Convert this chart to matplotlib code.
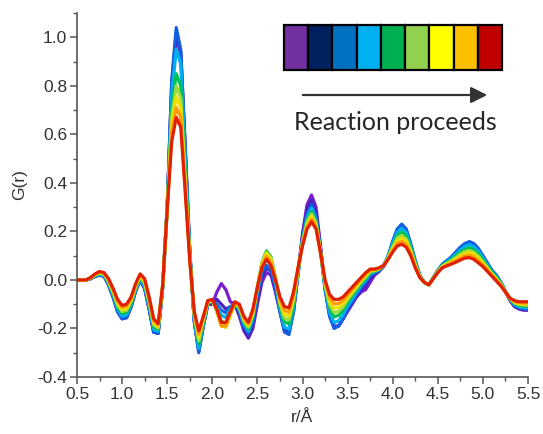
import numpy as np
import matplotlib
matplotlib.use("Agg")
import matplotlib.pyplot as plt
from matplotlib.patches import Rectangle, FancyArrowPatch
from matplotlib.ticker import MultipleLocator

plt.rcParams['axes.unicode_minus'] = False

# r grid (Å)
r = np.linspace(0.5, 5.5, 101)

g_purple = [0.0, 0.0, 0.0, 0.005, 0.015, 0.02, 0.015, -0.02, -0.07, -0.13,
            -0.16, -0.155, -0.11, -0.045, 0.0, -0.035, -0.12, -0.215, -0.22, -0.03,
            0.30, 0.79, 1.00, 0.93, 0.53, 0.12, -0.17, -0.29, -0.19, -0.10,
            -0.10, -0.05, -0.015, -0.04, -0.09, -0.10, -0.15, -0.21, -0.24, -0.20,
            -0.10, -0.01, 0.03, 0.02, -0.05, -0.13, -0.20, -0.21, -0.13, 0.03,
            0.19, 0.31, 0.35, 0.30, 0.14, -0.03, -0.14, -0.19, -0.19, -0.16,
            -0.13, -0.10, -0.07, -0.05, -0.04, -0.01, 0.02, 0.035, 0.055, 0.09,
            0.15, 0.20, 0.22, 0.20, 0.14, 0.07, 0.015, -0.01, -0.02, 0.005,
            0.035, 0.06, 0.075, 0.09, 0.11, 0.13, 0.145, 0.15, 0.14, 0.12,
            0.095, 0.065, 0.035, 0.015, -0.015, -0.05, -0.085, -0.11, -0.12, -0.125, -0.125]

g_navy = [0.0, 0.0, 0.0, 0.005, 0.015, 0.02, 0.015, -0.02, -0.07, -0.13,
          -0.16, -0.155, -0.11, -0.045, 0.0, -0.035, -0.12, -0.215, -0.22, -0.03,
          0.30, 0.81, 1.02, 0.94, 0.54, 0.12, -0.17, -0.295, -0.19, -0.10,
          -0.10, -0.08, -0.10, -0.12, -0.11, -0.105, -0.14, -0.20, -0.235, -0.185,
          -0.08, 0.01, 0.05, 0.035, -0.04, -0.13, -0.21, -0.215, -0.13, 0.025,
          0.18, 0.29, 0.33, 0.28, 0.13, -0.035, -0.145, -0.195, -0.19, -0.16,
          -0.125, -0.095, -0.065, -0.04, -0.025, 0.005, 0.025, 0.038, 0.058, 0.095,
          0.155, 0.205, 0.225, 0.205, 0.145, 0.075, 0.018, -0.01, -0.02, 0.008,
          0.038, 0.063, 0.078, 0.093, 0.113, 0.133, 0.148, 0.155, 0.145, 0.125,
          0.098, 0.068, 0.038, 0.018, -0.012, -0.048, -0.082, -0.108, -0.118, -0.122, -0.122]

g_blue = [0.0, 0.0, 0.0, 0.005, 0.015, 0.02, 0.015, -0.02, -0.07, -0.13,
          -0.16, -0.155, -0.11, -0.045, 0.0, -0.035, -0.12, -0.215, -0.22, -0.03,
          0.30, 0.82, 1.04, 0.95, 0.55, 0.12, -0.17, -0.30, -0.19, -0.10,
          -0.09, -0.10, -0.125, -0.135, -0.11, -0.10, -0.13, -0.19, -0.22, -0.17,
          -0.06, 0.03, 0.06, 0.04, -0.03, -0.13, -0.215, -0.225, -0.13, 0.02,
          0.17, 0.27, 0.31, 0.26, 0.12, -0.04, -0.15, -0.20, -0.19, -0.16,
          -0.12, -0.09, -0.06, -0.03, -0.01, 0.02, 0.03, 0.04, 0.06, 0.10,
          0.16, 0.21, 0.23, 0.21, 0.15, 0.08, 0.02, -0.01, -0.02, 0.01,
          0.04, 0.065, 0.08, 0.095, 0.115, 0.135, 0.15, 0.158, 0.15, 0.13,
          0.10, 0.07, 0.04, 0.02, -0.01, -0.045, -0.08, -0.105, -0.115, -0.12, -0.12]

g_lightblue = [0.0, 0.0, 0.0, 0.006, 0.017, 0.023, 0.018, -0.015, -0.063, -0.12,
               -0.149, -0.144, -0.102, -0.039, 0.005, -0.027, -0.11, -0.204, -0.212, -0.028,
               0.298, 0.76, 0.95, 0.89, 0.50, 0.112, -0.162, -0.282, -0.182, -0.097,
               -0.088, -0.11, -0.145, -0.155, -0.12, -0.098, -0.124, -0.182, -0.211, -0.16,
               -0.05, 0.045, 0.09, 0.065, -0.01, -0.118, -0.194, -0.203, -0.114, 0.026,
               0.164, 0.258, 0.296, 0.25, 0.118, -0.032, -0.132, -0.176, -0.168, -0.142,
               -0.106, -0.078, -0.05, -0.022, -0.002, 0.025, 0.033, 0.042, 0.06, 0.097,
               0.151, 0.196, 0.213, 0.195, 0.14, 0.074, 0.018, -0.01, -0.02, 0.009,
               0.038, 0.062, 0.076, 0.089, 0.107, 0.124, 0.138, 0.145, 0.137, 0.118,
               0.091, 0.063, 0.035, 0.015, -0.013, -0.046, -0.079, -0.101, -0.11, -0.114, -0.114]

g_green = [0.0, 0.0, 0.0, 0.007, 0.019, 0.026, 0.021, -0.01, -0.056, -0.11,
           -0.138, -0.133, -0.094, -0.033, 0.01, -0.019, -0.10, -0.193, -0.204, -0.026,
           0.296, 0.70, 0.85, 0.80, 0.45, 0.104, -0.154, -0.264, -0.174, -0.094,
           -0.086, -0.125, -0.17, -0.18, -0.14, -0.096, -0.118, -0.174, -0.202, -0.15,
           -0.03, 0.07, 0.12, 0.095, 0.01, -0.106, -0.173, -0.181, -0.098, 0.032,
           0.158, 0.246, 0.282, 0.24, 0.116, -0.024, -0.114, -0.152, -0.146, -0.124,
           -0.092, -0.066, -0.04, -0.014, 0.006, 0.03, 0.036, 0.044, 0.06, 0.094,
           0.142, 0.182, 0.197, 0.18, 0.13, 0.068, 0.016, -0.01, -0.02, 0.008,
           0.036, 0.059, 0.071, 0.083, 0.098, 0.114, 0.126, 0.132, 0.124, 0.106,
           0.082, 0.056, 0.03, 0.01, -0.016, -0.047, -0.078, -0.097, -0.105, -0.108, -0.108]

g_lightgreen = [0.0, 0.0, 0.0, 0.008, 0.021, 0.028, 0.023, -0.006, -0.051, -0.103,
                -0.13, -0.125, -0.088, -0.029, 0.014, -0.013, -0.093, -0.185, -0.198, -0.025,
                0.295, 0.67, 0.80, 0.75, 0.42, 0.098, -0.148, -0.251, -0.168, -0.092,
                -0.085, -0.13, -0.185, -0.195, -0.145, -0.095, -0.114, -0.168, -0.195, -0.143,
                -0.03, 0.068, 0.115, 0.09, 0.01, -0.097, -0.157, -0.165, -0.086, 0.037,
                0.154, 0.237, 0.272, 0.233, 0.115, -0.018, -0.101, -0.134, -0.13, -0.111,
                -0.082, -0.057, -0.033, -0.008, 0.012, 0.034, 0.038, 0.046, 0.06, 0.092,
                0.135, 0.172, 0.184, 0.169, 0.123, 0.064, 0.015, -0.01, -0.02, 0.007,
                0.035, 0.057, 0.068, 0.079, 0.092, 0.106, 0.117, 0.122, 0.114, 0.097,
                0.075, 0.051, 0.026, 0.006, -0.018, -0.048, -0.077, -0.094, -0.101, -0.104, -0.104]

g_yellow = [0.0, 0.0, 0.0, 0.009, 0.022, 0.031, 0.026, -0.003, -0.046, -0.095,
            -0.122, -0.117, -0.082, -0.024, 0.018, -0.007, -0.085, -0.177, -0.192, -0.023,
            0.293, 0.64, 0.755, 0.71, 0.40, 0.092, -0.142, -0.237, -0.162, -0.09,
            -0.083, -0.13, -0.19, -0.195, -0.145, -0.093, -0.109, -0.162, -0.189, -0.135,
            -0.03, 0.065, 0.108, 0.083, 0.008, -0.088, -0.142, -0.148, -0.074, 0.041,
            0.149, 0.228, 0.261, 0.225, 0.113, -0.012, -0.087, -0.116, -0.113, -0.097,
            -0.071, -0.048, -0.025, -0.002, 0.018, 0.038, 0.041, 0.047, 0.06, 0.09,
            0.129, 0.161, 0.172, 0.158, 0.115, 0.059, 0.013, -0.01, -0.02, 0.007,
            0.033, 0.055, 0.065, 0.074, 0.086, 0.098, 0.108, 0.112, 0.105, 0.088,
            0.069, 0.046, 0.023, 0.003, -0.021, -0.049, -0.077, -0.091, -0.098, -0.099, -0.099]

g_orange = [0.0, 0.0, 0.0, 0.009, 0.024, 0.033, 0.028, 0.001, -0.04, -0.088,
            -0.113, -0.108, -0.076, -0.02, 0.021, -0.001, -0.078, -0.168, -0.186, -0.022,
            0.292, 0.61, 0.71, 0.67, 0.38, 0.086, -0.136, -0.224, -0.156, -0.087,
            -0.082, -0.125, -0.19, -0.19, -0.14, -0.092, -0.105, -0.156, -0.182, -0.128,
            -0.03, 0.058, 0.098, 0.073, 0.005, -0.079, -0.126, -0.132, -0.062, 0.046,
            0.145, 0.219, 0.251, 0.218, 0.112, -0.006, -0.074, -0.098, -0.097, -0.084,
            -0.061, -0.039, -0.018, 0.004, 0.024, 0.041, 0.043, 0.049, 0.06, 0.087,
            0.122, 0.151, 0.159, 0.146, 0.108, 0.055, 0.012, -0.01, -0.02, 0.006,
            0.032, 0.052, 0.061, 0.07, 0.079, 0.09, 0.099, 0.102, 0.095, 0.079,
            0.062, 0.04, 0.019, -0.001, -0.023, -0.049, -0.076, -0.088, -0.094, -0.095, -0.095]

g_red = [0.0, 0.0, 0.0, 0.01, 0.025, 0.035, 0.03, 0.005, -0.035, -0.08,
         -0.105, -0.10, -0.07, -0.015, 0.025, 0.005, -0.07, -0.16, -0.18, -0.02,
         0.29, 0.57, 0.67, 0.63, 0.36, 0.08, -0.13, -0.21, -0.15, -0.085,
         -0.08, -0.12, -0.175, -0.175, -0.13, -0.09, -0.10, -0.15, -0.175, -0.12,
         -0.03, 0.05, 0.085, 0.06, 0.0, -0.07, -0.11, -0.115, -0.05, 0.05,
         0.14, 0.21, 0.24, 0.21, 0.11, 0.0, -0.06, -0.08, -0.08, -0.07,
         -0.05, -0.03, -0.01, 0.01, 0.03, 0.045, 0.045, 0.05, 0.06, 0.085,
         0.115, 0.14, 0.147, 0.135, 0.10, 0.05, 0.01, -0.01, -0.02, 0.005,
         0.03, 0.05, 0.058, 0.065, 0.073, 0.082, 0.09, 0.092, 0.085, 0.07,
         0.055, 0.035, 0.015, -0.005, -0.025, -0.05, -0.075, -0.085, -0.09, -0.09, -0.09]

series = [g_purple, g_navy, g_blue, g_lightblue, g_green,
          g_lightgreen, g_yellow, g_orange, g_red]
line_colors = ['#7a1fd0', '#4a22c0', '#1060e0', '#00b0f0', '#00c050',
               '#a0dc40', '#f0e000', '#ff9a00', '#e02000']
legend_colors = ['#7030A0', '#002060', '#0070C0', '#00B0F0', '#00B050',
                 '#92D050', '#FFFF00', '#FFC000', '#C00000']

xticks = [0.5, 1.0, 1.5, 2.0, 2.5, 3.0, 3.5, 4.0, 4.5, 5.0, 5.5]
yticks = [-0.4, -0.2, 0.0, 0.2, 0.4, 0.6, 0.8, 1.0]

W, H = 543, 434
fig = plt.figure(figsize=(W / 100, H / 100), dpi=100)
ax = fig.add_axes([77 / W, 1 - 377 / H, 451 / W, 364 / H])

for vals, col in zip(series, line_colors):
    ax.plot(r, vals, color=col, lw=2.3, solid_joinstyle='round')

ax.set_xlim(0.5, 5.5)
ax.set_ylim(-0.4, 1.1)
ax.set_xticks(xticks)
ax.set_xticklabels([f"{v:.1f}" for v in xticks])
ax.set_yticks(yticks)
ax.set_yticklabels([f"{v:.1f}" for v in yticks])
ax.xaxis.set_minor_locator(MultipleLocator(0.25))
ax.yaxis.set_minor_locator(MultipleLocator(0.1))
for s in ['top', 'right']:
    ax.spines[s].set_visible(False)
for s in ['left', 'bottom']:
    ax.spines[s].set_color('#555555')
    ax.spines[s].set_linewidth(1.2)
ax.tick_params(which='major', direction='out', length=5, width=1.1,
               colors='#555555', labelcolor='#333333', labelsize=12.5,
               pad=2)
ax.tick_params(which='minor', direction='out', length=3, width=1.0,
               colors='#555555')
for lab in ax.get_xticklabels() + ax.get_yticklabels():
    lab.set_family('Liberation Sans')

fig.text(20 / W, 1 - 185 / H, 'G(r)', rotation=90, ha='center', va='center',
         fontsize=12.5, color='#333333', family='Liberation Sans')
fig.text(302 / W, 1 - 417 / H, 'r/Å', ha='center', va='center',
         fontsize=12.5, color='#333333', family='Liberation Sans')

# colour key
lax = fig.add_axes([284 / W, 1 - 70 / H, 218 / W, 45 / H])
lax.set_xlim(0, len(legend_colors))
lax.set_ylim(0, 1)
lax.axis('off')
for i, c in enumerate(legend_colors):
    lax.add_patch(Rectangle((i, 0), 1, 1, facecolor=c, edgecolor='black',
                            lw=1.6, clip_on=False))

fig.patches.append(FancyArrowPatch(
    (300 / W, 1 - 95 / H), (490 / W, 1 - 95 / H), transform=fig.transFigure,
    arrowstyle='-|>,head_length=0.7,head_width=0.35', mutation_scale=14,
    color='#333333', lw=1.6))
fig.text(395 / W, 1 - 123 / H, 'Reaction proceeds', ha='center', va='center',
         fontsize=18, color='#262626', family='Lato')

fig.savefig('out.png', dpi=100)
